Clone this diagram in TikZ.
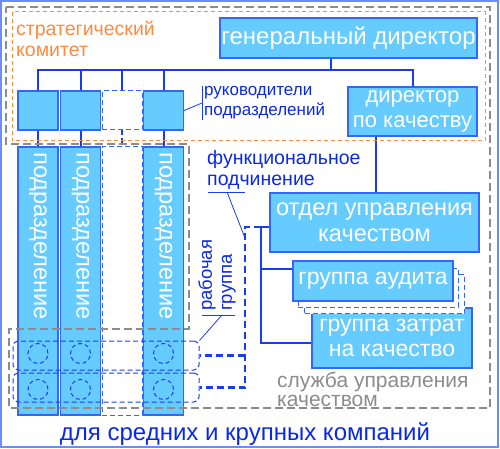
\documentclass[tikz,border=0pt]{standalone}
\usepackage{fontspec}
\setmainfont{Liberation Sans}
\usepackage{xcolor}
\usepackage{tikz}
\usetikzlibrary{positioning,calc}
\definecolor{boxfill}{HTML}{66CCFF}
\definecolor{boxline}{HTML}{3366FF}
\definecolor{linkblue}{HTML}{1A3CF0}
\definecolor{noteblue}{HTML}{0A28E6}
\definecolor{frameblue}{HTML}{6A8CFF}
\definecolor{committee}{HTML}{FF8A3D}
\definecolor{servicegray}{HTML}{8C8C8C}
\newcommand{\pxfont}[2]{\fontsize{#1}{#2}\selectfont}

\begin{document}
\begin{tikzpicture}[x=1pt,y=-1pt,
  box/.style={draw=boxline,fill=boxfill,line width=1.2pt,text=white,inner sep=0pt,align=center},
  ghostbox/.style={draw=boxline,fill=white,line width=1pt,dash pattern=on 5pt off 3pt,inner sep=0pt},
  coltext/.style={text=white,rotate=-90,anchor=west,inner sep=0pt,font=\pxfont{23.5}{26}},
  link/.style={draw=linkblue,line width=2pt},
  thinlink/.style={draw=linkblue,line width=0.8pt},
  thickdash/.style={draw=linkblue,line width=2.4pt,dash pattern=on 7pt off 4pt},
  wgroup/.style={draw=linkblue,line width=1pt,dash pattern=on 5pt off 3pt,rounded corners=5pt,inner sep=0pt},
  note/.style={text=noteblue,inner sep=0pt,align=left}]
  \useasboundingbox (0,0) rectangle (500,449);
  \draw[frameblue,line width=1.5pt] (1,1) rectangle (498,447);
  % top management
  \node[box,minimum width=257pt,minimum height=40pt,font=\pxfont{24}{27}] (gd) at (348.5,38) {генеральный директор};
  \node[box,minimum width=129pt,minimum height=49pt,font=\pxfont{22}{25}] (dq) at (412.5,111.5) {директор\\по качеству};
  % heads and divisions
  \foreach \n/\x in {1/38,2/80.5,4/163.5} {
    \node[box,minimum width=40pt,minimum height=39pt] (h\n) at (\x,110.5) {};
    \node[box,minimum width=40pt,minimum height=268pt] (c\n) at (\x,281) {};
    \node[coltext] at ([yshift=-6pt]c\n.north) {подразделение};
  }
  \node[ghostbox,minimum width=40pt,minimum height=39pt] (h3) at (122,110.5) {};
  \node[ghostbox,minimum width=40pt,minimum height=268pt] (c3) at (122,281) {};
  \coordinate (bus) at (0,70);
  \draw[link] (h1.north) -- (h1.north |- bus) -| (dq.north);
  \foreach \n in {2,3,4} \draw[link] (h\n.north) -- (h\n.north |- bus);
  \draw[link] ([xshift=-17.5pt]gd.south) -- ([xshift=-17.5pt]gd.south |- bus);
  \foreach \n in {1,2,4} \draw[link] (h\n.south) -- (c\n.north);
  \draw[link,line width=1.2pt,dash pattern=on 5pt off 3pt] (h3.south) -- (c3.north);
  % quality service
  \node[box,minimum width=209pt,minimum height=59pt,font=\pxfont{23.5}{26}] (qd) at (374.5,222.5) {отдел управления\\качеством};
  \node[box,minimum width=160pt,minimum height=60pt,font=\pxfont{23}{25}] (gc) at (392,338) {группа затрат\\на качество};
  \node[ghostbox,minimum width=160pt,minimum height=39pt] (ga2) at (384.5,294) {};
  \node[ghostbox,minimum width=160pt,minimum height=39pt] (ga1) at (378,287.5) {};
  \node[box,minimum width=160pt,minimum height=40pt,font=\pxfont{23}{25}] (ga) at (373,281) {группа аудита};
  \coordinate (qv) at (376,0);
  \draw[link] (dq.south -| qv) -- (qd.north -| qv);
  \coordinate (fj) at (261,227);
  \coordinate (fa) at (261,269);
  \coordinate (fc) at (261,343);
  \coordinate (bk) at (245,227);
  \draw[link] (qd.west |- fj) -- (fj) -- (fc) -- (gc.west |- fc);
  \draw[link] (fa) -- (ga.west |- fa);
  % working groups
  \node[wgroup,minimum width=186pt,minimum height=29pt] (w1) at (106,355.5) {};
  \node[wgroup,minimum width=186pt,minimum height=29pt] (w2) at (106,387.5) {};
  \foreach \x in {38,80.5,163.5}
    \foreach \y in {353.5,389.5}
      \draw[linkblue,line width=1pt,dash pattern=on 4pt off 3pt] (\x,\y) circle[radius=10pt];
  \draw[thickdash] (fj) -- (bk) |- (w2.east);
  \draw[thickdash] (w1.east -| bk) -- (w1.east);
  % notes
  \node[note,anchor=west,font=\pxfont{17}{20}] (heads) at (204,103) {руководители\\подразделений};
  \draw[thinlink] ([xshift=-2pt]heads.north west) -- ([xshift=-2pt]heads.south west);
  \draw[thinlink] (h4.east) -- ([xshift=-2pt]heads.west);
  \node[note,anchor=north west,font=\pxfont{19.5}{21}] (func) at (207,150) {функциональное\\подчинение};
  \coordinate (fu1) at (208,192);
  \coordinate (fu2) at (245,192);
  \coordinate (fu) at (227,192);
  \draw[thinlink] (fu1) -- (fu2);
  \draw[thinlink] (fu) -- (bk |- 0,238);
  \node[note,rotate=90,anchor=west,font=\pxfont{18.5}{20}] (wgnote) at (217,311) {рабочая\\группа};
  \coordinate (wu1) at (202,315);
  \coordinate (wu2) at (235,315);
  \coordinate (wu) at (222,315);
  \draw[thinlink] (wu1) -- (wu2);
  \draw[thinlink] (wu) -- (w1.north east);
  \node[anchor=north west,text=committee,font=\pxfont{19.5}{21},align=left,inner sep=0pt] (comm) at (16,21) {стратегический\\комитет};
  \node[anchor=north west,text=servicegray,font=\pxfont{21}{19},align=left,inner sep=0pt] (serv) at (277,372) {служба управления\\качеством};
  \node[note,anchor=base,font=\pxfont{24}{27}] (caption) at (245,440) {для средних и крупных компаний};
  % zones
  \draw[servicegray,line width=1.2pt,dash pattern=on 8pt off 4pt] (6,7) -- (490,7) -- (490,408) -- (9,408) -- (9,329) -- (189,329) -- (189,144) -- (6,144) -- cycle;
  \draw[committee,line width=1pt,dash pattern=on 4pt off 3pt] (12,12) rectangle (485,141);
\end{tikzpicture}
\end{document}
